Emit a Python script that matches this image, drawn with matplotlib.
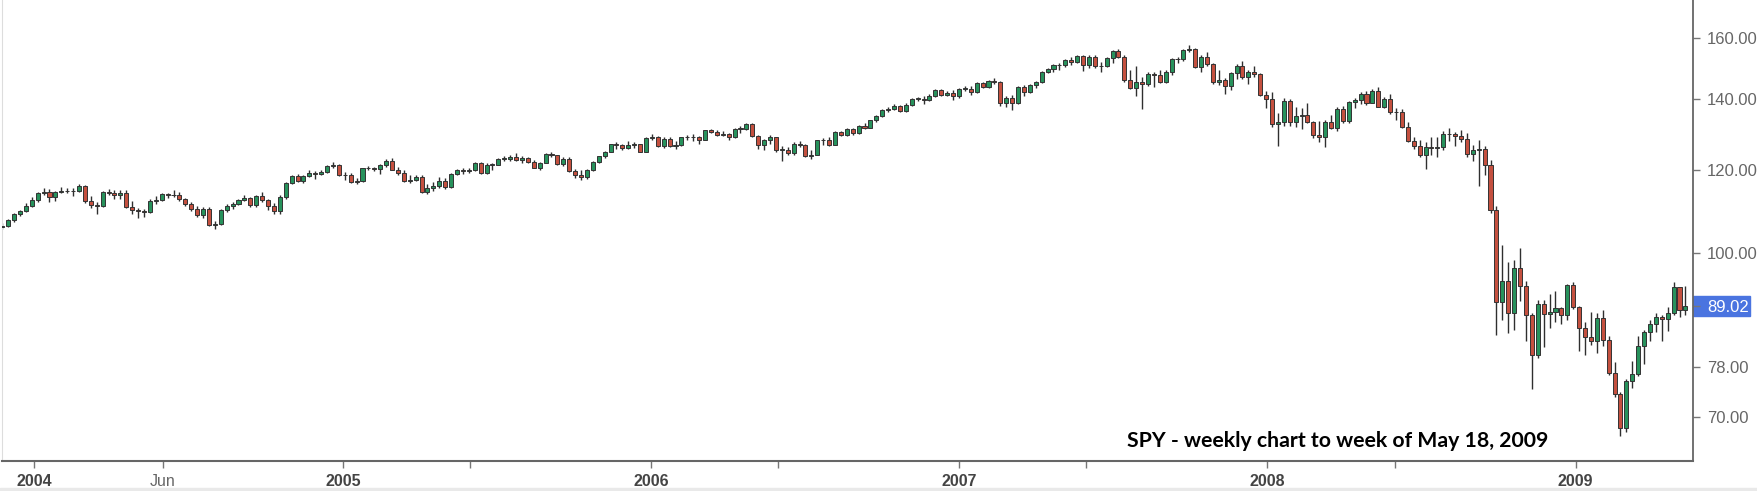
import matplotlib
matplotlib.use('Agg')
import matplotlib.pyplot as plt
import matplotlib.dates as mdates
from matplotlib.patches import Rectangle
from matplotlib.ticker import NullLocator
import pandas as pd

# weekly SPY bars, one per week (Monday of the week)
weeks = pd.date_range('2003-12-01', '2009-05-18', freq='W-MON')
first_open = 105.8

closes_2003 = [106.2, 107.4, 108.9, 109.6, 110.9]
highs_2003 = [106.9, 107.8, 109.2, 109.9, 111.5]
lows_2003 = [105.4, 105.9, 107.0, 108.5, 109.3]

closes_2004 = [112.2, 114.0, 114.2, 113.1, 114.3, 114.6, 114.4, 114.5, 115.7, 112.1, 111.0, 110.8, 114.2,
               113.9, 113.5, 114.1, 110.7, 109.9, 109.6, 109.4, 112.1, 112.3, 113.7, 113.5, 113.4, 112.5,
               111.3, 110.1, 108.6, 110.2, 106.4, 106.5, 109.8, 110.8, 111.4, 112.4, 112.9, 111.0, 113.2,
               112.2, 110.8, 109.6, 113.0, 116.6, 118.4, 117.0, 118.3, 119.1, 118.8, 119.4, 121.0, 121.2]
highs_2004 = [113.0, 114.2, 115.2, 115.0, 114.6, 115.5, 115.3, 115.3, 116.2, 116.0, 113.3, 111.9, 114.5,
              115.0, 114.8, 114.8, 114.7, 112.0, 110.3, 110.2, 112.5, 113.3, 114.0, 114.1, 114.7, 114.2,
              112.8, 111.7, 110.8, 110.6, 110.6, 107.3, 110.0, 111.3, 111.9, 112.6, 113.6, 113.1, 113.5,
              114.2, 112.5, 111.6, 113.4, 116.9, 118.6, 118.8, 118.5, 119.8, 119.6, 120.0, 121.2, 121.9]
lows_2004 = [110.6, 111.8, 113.6, 111.9, 112.0, 114.0, 113.9, 113.3, 114.3, 111.5, 110.3, 108.9, 110.5,
             113.4, 112.6, 112.6, 110.4, 109.0, 107.9, 108.3, 109.2, 111.3, 112.1, 112.8, 113.0, 112.0,
             110.8, 109.6, 108.2, 107.9, 106.1, 105.5, 106.3, 109.5, 110.2, 111.0, 112.0, 110.7, 110.5,
             111.9, 109.8, 109.0, 108.9, 112.6, 116.3, 116.7, 116.6, 118.0, 117.6, 118.6, 119.2, 120.5]

closes_2005 = [118.6, 118.5, 116.8, 117.1, 120.3, 120.5, 120.2, 121.1, 122.2, 120.0, 119.0, 117.1, 117.3,
               118.1, 114.3, 115.2, 115.7, 117.1, 115.4, 118.9, 119.9, 119.6, 119.8, 121.7, 119.2, 121.2,
               121.2, 122.8, 122.9, 123.4, 122.6, 123.0, 122.0, 120.5, 121.8, 124.2, 123.8, 121.5, 122.9,
               119.6, 118.7, 118.0, 119.8, 122.0, 123.5, 124.8, 126.8, 126.5, 125.9, 126.7, 126.9, 124.8]
highs_2005 = [121.4, 119.4, 119.0, 117.8, 120.5, 121.0, 120.8, 121.5, 122.7, 123.0, 120.7, 119.9, 118.6,
              118.6, 118.6, 116.2, 116.8, 118.0, 117.8, 119.1, 120.1, 120.5, 120.5, 122.0, 122.0, 121.7,
              121.8, 123.0, 123.5, 123.8, 124.5, 123.7, 123.4, 122.4, 122.1, 124.4, 124.6, 123.9, 123.2,
              123.2, 120.1, 119.8, 120.2, 122.3, 123.7, 125.0, 127.0, 127.4, 127.0, 127.6, 127.3, 127.0]
lows_2005 = [118.2, 117.3, 116.6, 116.2, 116.9, 119.9, 119.5, 118.8, 120.6, 119.8, 118.6, 116.7, 116.5,
             117.0, 114.1, 113.8, 114.6, 115.3, 115.0, 115.2, 118.6, 118.8, 119.0, 119.6, 118.9, 118.8,
             119.8, 121.1, 122.2, 122.3, 122.3, 121.8, 121.6, 120.3, 119.8, 121.6, 123.3, 121.2, 120.9,
             119.3, 117.9, 117.3, 117.6, 119.5, 121.7, 123.0, 124.6, 125.4, 125.3, 125.4, 125.8, 124.6]

closes_2006 = [128.6, 128.8, 126.2, 128.4, 126.4, 126.7, 128.7, 128.9, 128.7, 128.1, 130.7, 130.3, 129.5,
               129.6, 128.9, 131.1, 131.1, 132.6, 129.1, 126.7, 128.0, 128.8, 125.2, 125.2, 124.5, 127.0,
               126.6, 123.6, 124.0, 127.9, 127.9, 126.7, 130.2, 129.5, 131.1, 129.9, 132.0, 131.5, 133.6,
               135.0, 136.6, 136.9, 137.7, 136.4, 138.1, 140.1, 140.1, 139.7, 141.0, 142.7, 141.1, 141.8]
highs_2006 = [128.8, 129.6, 129.0, 128.7, 128.9, 127.6, 128.9, 129.4, 129.6, 129.1, 130.9, 131.1, 130.8,
              130.6, 129.9, 131.4, 131.9, 132.9, 132.9, 129.3, 128.4, 129.4, 128.9, 126.3, 126.1, 127.4,
              127.8, 127.0, 125.1, 128.1, 128.6, 128.7, 130.4, 130.5, 131.3, 131.4, 132.3, 132.7, 133.8,
              135.3, 136.8, 137.4, 138.4, 138.1, 138.7, 140.3, 140.6, 140.9, 141.6, 142.9, 143.0, 142.3]
lows_2006 = [124.7, 127.9, 126.0, 125.8, 126.1, 125.6, 126.3, 128.0, 127.7, 126.8, 128.0, 129.9, 129.1,
             129.2, 128.1, 128.6, 129.9, 130.9, 128.8, 125.6, 125.1, 126.9, 124.8, 122.3, 123.9, 124.0,
             126.0, 123.3, 122.7, 123.8, 126.5, 126.3, 126.5, 129.0, 129.2, 129.3, 129.6, 131.1, 131.3,
             133.2, 134.6, 136.0, 136.5, 136.0, 136.1, 137.8, 139.4, 138.3, 139.4, 140.6, 140.8, 140.9]

closes_2007 = [141.0, 143.1, 143.1, 142.2, 144.8, 143.8, 145.6, 145.1, 138.7, 140.3, 138.7, 143.6, 142.1,
               144.4, 145.3, 148.4, 149.4, 150.6, 150.6, 152.3, 151.6, 153.6, 150.8, 153.3, 150.3, 150.3,
               153.0, 155.3, 153.4, 145.9, 143.3, 145.4, 144.6, 147.9, 147.4, 145.4, 148.4, 152.6, 152.7,
               155.8, 156.2, 150.1, 153.5, 151.0, 145.4, 145.9, 144.1, 148.1, 150.5, 146.8, 148.5, 147.9,
               141.2]
highs_2007 = [142.7, 143.4, 143.9, 144.0, 145.1, 145.3, 146.0, 146.6, 145.5, 141.0, 141.3, 143.9, 144.2,
              144.7, 145.7, 148.7, 149.8, 151.0, 151.5, 152.6, 153.5, 153.9, 154.0, 153.9, 154.0, 151.6,
              153.5, 155.8, 156.0, 154.0, 149.0, 150.4, 147.0, 148.4, 148.6, 149.0, 149.0, 153.2, 153.5,
              156.0, 157.5, 156.3, 154.0, 155.0, 151.5, 149.0, 146.6, 148.6, 151.0, 152.0, 149.0, 150.5,
              148.1]
lows_2007 = [139.7, 140.3, 142.4, 141.3, 141.9, 143.3, 143.3, 144.6, 137.7, 137.6, 136.6, 138.4, 141.0,
             141.8, 143.5, 145.0, 148.0, 148.6, 149.0, 150.1, 150.9, 151.3, 148.9, 149.8, 149.9, 148.5,
             150.0, 151.4, 152.9, 145.2, 142.9, 141.0, 137.0, 143.9, 143.8, 145.0, 144.8, 147.6, 151.4,
             152.0, 155.1, 149.8, 148.4, 150.5, 144.6, 144.3, 141.5, 142.7, 146.2, 146.2, 144.6, 146.8,
             140.9]

closes_2008 = [140.1, 132.5, 133.1, 139.5, 133.1, 135.0, 135.3, 133.1, 129.3, 128.8, 133.0, 131.5, 137.0,
               133.3, 139.0, 139.8, 141.4, 138.8, 142.5, 137.6, 140.0, 136.1, 136.0, 131.8, 127.8, 126.3,
               124.0, 126.1, 125.8, 126.0, 129.6, 129.8, 129.2, 128.3, 124.2, 125.2, 125.5, 121.3, 109.9,
               89.9, 94.1, 87.7, 96.9, 93.1, 87.3, 80.0, 89.6, 87.6, 88.0, 88.8, 87.3, 93.2]
highs_2008 = [142.3, 142.1, 135.7, 140.4, 139.9, 137.4, 137.2, 138.7, 133.5, 133.5, 133.8, 135.1, 137.5,
              137.7, 139.4, 140.3, 142.0, 142.5, 142.9, 143.7, 140.6, 141.4, 137.2, 137.0, 133.1, 128.9,
              128.0, 127.5, 128.8, 128.8, 130.6, 131.3, 130.3, 130.8, 130.1, 126.5, 128.1, 126.3, 122.4,
              110.8, 101.8, 98.0, 98.6, 101.2, 94.2, 87.8, 90.2, 90.2, 91.5, 92.0, 88.9, 93.4]
lows_2008 = [137.2, 131.8, 126.3, 132.1, 132.0, 131.8, 131.0, 132.8, 128.6, 127.3, 126.1, 131.0, 130.6,
             132.8, 132.9, 137.2, 138.3, 138.1, 138.7, 137.4, 137.2, 135.6, 133.7, 131.5, 127.5, 125.5,
             123.3, 120.1, 124.0, 123.3, 125.3, 127.6, 126.3, 127.3, 123.4, 122.3, 115.7, 118.5, 109.1,
             83.6, 86.5, 84.0, 84.6, 90.0, 82.6, 74.4, 79.6, 81.5, 85.0, 86.0, 85.6, 86.5]

closes_2009 = [89.0, 85.0, 83.2, 82.6, 86.9, 82.7, 77.0, 73.5, 68.3, 75.6, 76.9, 81.6, 84.2, 85.7, 87.0,
               86.6, 87.8, 92.9, 88.3, 89.02]
highs_2009 = [94.0, 89.2, 86.0, 88.0, 87.7, 88.4, 83.4, 78.9, 73.8, 76.0, 79.0, 83.4, 84.5, 86.5, 87.8,
              87.3, 88.9, 93.8, 92.0, 93.0]
lows_2009 = [88.5, 80.8, 80.1, 81.9, 80.5, 81.6, 76.6, 73.0, 67.1, 67.7, 74.5, 76.5, 78.5, 82.5, 84.2,
             82.5, 84.4, 87.3, 87.0, 87.4]

closes = closes_2003 + closes_2004 + closes_2005 + closes_2006 + closes_2007 + closes_2008 + closes_2009
highs = highs_2003 + highs_2004 + highs_2005 + highs_2006 + highs_2007 + highs_2008 + highs_2009
lows = lows_2003 + lows_2004 + lows_2005 + lows_2006 + lows_2007 + lows_2008 + lows_2009
# weekly open = close of the week before
opens = [first_open] + closes[:-1]

y_ticks = [160, 140, 120, 100, 78, 70]
last_price = closes[-1]
x_tick_dates = ['2004-01-01', '2004-06-01', '2005-01-01', '2005-06-01', '2006-01-01', '2006-06-01',
                '2007-01-01', '2007-06-01', '2008-01-01', '2008-06-01', '2009-01-01']
x_tick_labels = ['2004', 'Jun', '2005', '', '2006', '', '2007', '', '2008', '', '2009']
note = 'SPY - weekly chart to week of May 18, 2009'

plt.rcParams['font.family'] = ['Liberation Sans', 'DejaVu Sans']

W, H = 1757, 491
fig = plt.figure(figsize=(W / 100, H / 100), dpi=100)
fig.add_artist(Rectangle((0, 0), 1, 3 / H, transform=fig.transFigure, color='#e9e9e9', zorder=-5))
ax = fig.add_axes([2 / W, 30 / H, 1691 / W, 461 / H])

# the source chart draws each weekly bar one week left of its Monday
x = mdates.date2num(weeks) - 7
up_color = '#27925c'
down_color = '#c4503f'
colors = [up_color if c >= o else down_color for o, c in zip(opens, closes)]
bottoms = [min(o, c) for o, c in zip(opens, closes)]
heights = [max(abs(c - o), 0.2) for o, c in zip(opens, closes)]

ax.vlines(x, lows, highs, color='#2f2f2f', linewidth=1.0, zorder=2)
ax.bar(x, heights, bottom=bottoms, width=4.8, color=colors, edgecolor='#333333', linewidth=0.7, zorder=3)

ax.set_yscale('log')
ax.set_ylim(63.55, 173.7)
d0 = mdates.date2num(pd.Timestamp('2004-01-01'))
ax.set_xlim(d0 - 38.3, d0 + 1966.0)

ax.yaxis.tick_right()
ax.set_yticks(y_ticks + [last_price])
ax.set_yticklabels(['%.2f' % v for v in y_ticks] + ['%.2f' % last_price])
ax.yaxis.set_minor_locator(NullLocator())
ax.tick_params(axis='y', direction='out', length=5, width=1, color='#777777', pad=5,
               labelsize=12, labelcolor='#666666')
ylabels = ax.get_yticklabels()
ylabels[-1].set_color('white')

ax.set_xticks(mdates.date2num(pd.to_datetime(x_tick_dates)))
ax.set_xticklabels(x_tick_labels)
ax.tick_params(axis='x', direction='out', length=5, width=1, color='#777777', pad=4, labelsize=11.5)
for lab in ax.get_xticklabels():
    if lab.get_text().isdigit():
        lab.set_fontweight('bold')
        lab.set_color('#444444')
    else:
        lab.set_color('#666666')

ax.spines['top'].set_visible(False)
ax.spines['left'].set_color('#dddddd')
ax.spines['right'].set_color('#666666')
ax.spines['right'].set_linewidth(1.3)
ax.spines['bottom'].set_color('#666666')
ax.spines['bottom'].set_linewidth(1.5)

# blue marker behind the last price label
fig.canvas.draw()
y_last = ax.transData.transform((x[-1], last_price))[1]
fig.add_artist(Rectangle((1693 / W, (y_last - 10) / H), 57 / W, 20 / H, transform=fig.transFigure,
                         color='#4a74e0', zorder=-1))

fig.text(1127 / W, (H - 447) / H, note, fontsize=15.3, fontweight='bold', family=['Lato', 'DejaVu Sans'],
         color='black', ha='left', va='baseline')

fig.savefig('out.png', dpi=100)
